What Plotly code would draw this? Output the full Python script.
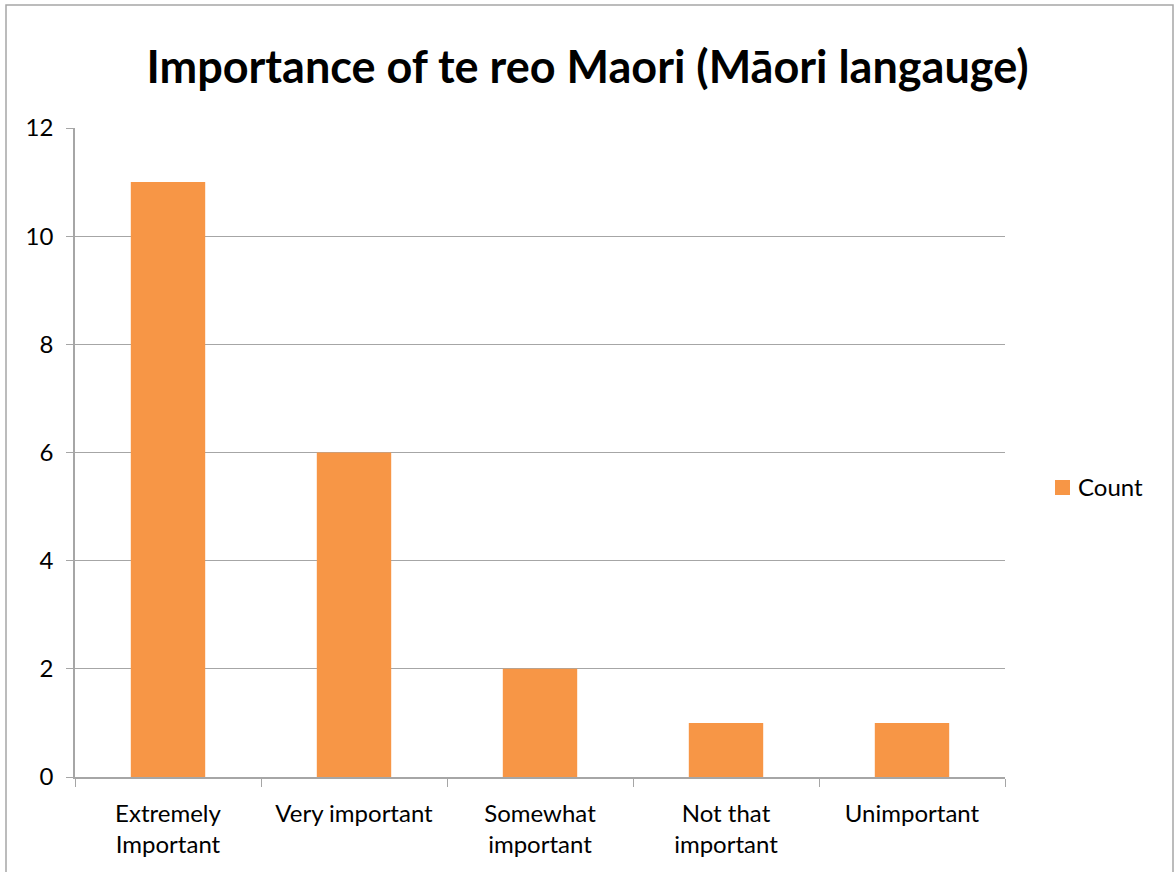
import plotly.graph_objects as go

categories = ["Extremely<br>Important", "Very important", "Somewhat<br>important", "Not that<br>important", "Unimportant"]
counts = [11, 6, 2, 1, 1]
y_ticks = [0, 2, 4, 6, 8, 10, 12]
series_name = "Count"
bar_color = "#F79646"

W, H = 1174, 872
L, R, T, B = 75, 1005, 128, 777
PW, PH = R - L, B - T


def px(x):
    return (x - L) / PW


def py(y):
    return (B - y) / PH


fig = go.Figure()
fig.add_trace(go.Bar(x=categories, y=counts, name=series_name, showlegend=False,
                     marker=dict(color=bar_color, line=dict(width=0))))

fig.update_layout(
    width=W, height=H,
    margin=dict(l=L, r=W - R, t=T, b=H - B, autoexpand=False),
    paper_bgcolor="white", plot_bgcolor="white",
    font=dict(family="Lato, Open Sans, sans-serif", size=24, color="#000000"),
    title=dict(text="<b>Importance of te reo Maori (Māori langauge)</b>", x=(145 + 1030) / 2 / W, xanchor="center",
               y=1 - 67 / H, yanchor="middle", font=dict(size=45, color="#000000")),
    bargap=0.6,
    showlegend=False,
    xaxis=dict(showline=True, linecolor="#A6A6A6", linewidth=1.5, ticks="outside", tickson="boundaries",
               ticklen=8, tickcolor="#A6A6A6", showgrid=False, tickfont=dict(size=24),
               ticklabelstandoff=14),
    yaxis=dict(range=[0, 12], tickvals=y_ticks, showline=True, linecolor="#A6A6A6", linewidth=1.5,
               ticks="outside", ticklen=7, tickcolor="#A6A6A6", showgrid=True, gridcolor="#A6A6A6",
               gridwidth=1, zeroline=False, ticklabelstandoff=8, tickfont=dict(size=24)),
    shapes=[
        dict(type="rect", xref="paper", yref="paper",
             x0=px(6), x1=px(1173), y0=py(880), y1=py(5),
             line=dict(color="#A6A6A6", width=1.5), fillcolor="rgba(0,0,0,0)", layer="below"),
        dict(type="rect", xref="paper", yref="paper",
             x0=px(1055), x1=px(1070), y0=py(495), y1=py(480),
             line=dict(width=0), fillcolor=bar_color),
    ],
    annotations=[
        dict(text=series_name, xref="paper", yref="paper", x=px(1076), y=py(487),
             xanchor="left", yanchor="middle", showarrow=False, font=dict(size=24))
    ],
)

fig.write_html("out.html", config={"displayModeBar": False},
               post_script="document.body.style.margin='0';document.body.style.overflow='hidden';")
